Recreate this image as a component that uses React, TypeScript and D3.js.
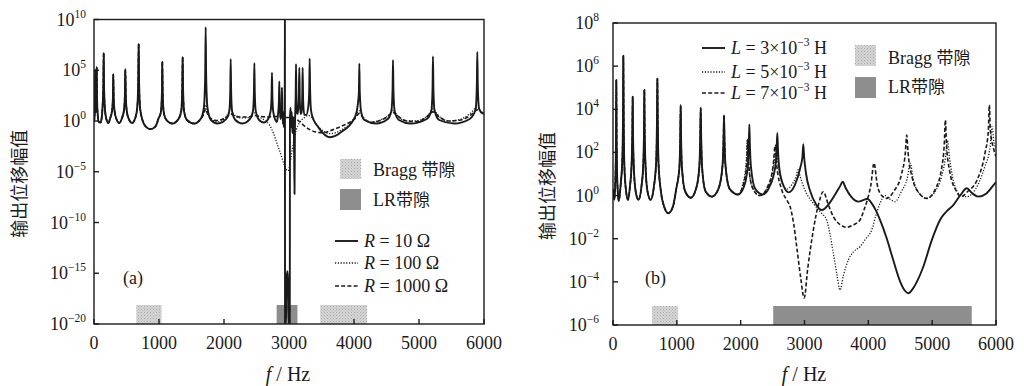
import React from 'react';
import * as d3 from 'd3';

type Pt = [number, number];

// ---------- data (frequency in Hz, amplitude as log10 exponent) ----------
const xTicks = [0, 1000, 2000, 3000, 4000, 5000, 6000];
const yExpA = [10, 5, 0, -5, -10, -15, -20];
const yExpB = [8, 6, 4, 2, 0, -2, -4, -6];

const braggA: Pt[] = [[650, 1040], [3480, 4200]];
const lrA: Pt[] = [[2810, 3130]];
const braggB: Pt[] = [[610, 1020]];
const lrB: Pt[] = [[2510, 5620]];

// panel (a): common low-frequency part of all three R curves
const lowA: Pt[] = [
  [0, -0.1], [10, 0.6], [17, 2.4], [20, 5.0], [23, 2.4], [28, 0.9], [32, 0.9], [38, 2.6], [42, 5.3], [46, 2.6], [55, 0.8], [75, -0.1], [100, -0.15],
  [120, 0.4], [130, 1.2], [143, 3.3], [149, 6.7], [155, 3.3], [168, 1.2], [190, 0.2], [222, -0.2],
  [250, 0.3], [278, 1.0], [291, 2.3], [297, 4.6], [303, 2.3], [316, 1.0], [345, 0.2], [390, -0.2],
  [430, 0.3], [462, 1.1], [475, 2.5], [482, 5.1], [489, 2.5], [502, 1.1], [535, 0.2], [585, -0.2],
  [635, 0.3], [665, 1.3], [680, 3.7], [687, 7.6], [694, 3.7], [709, 1.3], [745, 0.1], [790, -0.5], [870, -0.8], [950, -0.5],
  [990, 0.2], [1030, 0.9], [1045, 2.8], [1051, 5.85], [1057, 2.8], [1072, 0.9], [1115, 0.1], [1205, -0.25],
  [1300, 0.2], [1343, 1.0], [1357, 3.0], [1364, 6.3], [1371, 3.0], [1385, 1.0], [1430, 0.1], [1540, -0.25],
];

const r10: Pt[] = [
  ...lowA,
  [1640, 0.2], [1690, 1.3], [1710, 4.3], [1718, 9.25], [1726, 4.3], [1746, 1.3], [1800, 0.1], [1905, -0.25],
  [2035, 0.2], [2082, 1.0], [2096, 2.9], [2103, 6.1], [2110, 2.9], [2124, 1.0], [2175, 0.1], [2285, -0.25],
  [2400, 0.2], [2446, 1.0], [2460, 2.7], [2467, 5.7], [2474, 2.7], [2488, 1.0], [2540, 0.1], [2615, -0.15],
  [2680, 0.2], [2718, 1.0], [2731, 2.3], [2738, 4.75], [2745, 2.3], [2758, 0.9], [2790, 0.1], [2815, -0.1],
  [2830, 0.6], [2844, 1.8], [2851, 3.9], [2857, 1.6], [2868, 0.2], [2876, 0.5],
  [2886, 1.5], [2892, 3.3], [2898, 1.0], [2905, -0.3], [2912, 0.9], [2920, -0.6], [2928, 0.7], [2934, 0.2],
  [2937, 10], [2939, -20], [2952, -20], [2962, -16.5], [2970, -15], [2978, -14.8], [2986, -16], [2996, -20], [3012, -20],
  [3015, 0.3], [3024, 1.3], [3032, -0.6], [3042, 0.9], [3052, -1.2], [3066, 0.4], [3078, -2.5], [3085, -7.2], [3091, -1], [3097, 1],
  [3103, 2.6], [3108, 5.6], [3113, 2.6], [3122, 0.8], [3135, 0.7], [3150, 2.2], [3159, 5.25], [3166, 2.2], [3178, 0.7],
  [3192, 0.8], [3203, 2.2], [3210, 5.25], [3217, 2.2], [3235, 0.6], [3265, 0.6], [3298, 1.5], [3311, 3.0], [3318, 6.15], [3325, 3.0], [3340, 1.0],
  [3380, 0.1], [3450, -0.6], [3540, -1.3], [3630, -1.6], [3720, -1.45], [3820, -1.0], [3920, -0.5], [3990, 0.1],
  [4040, 0.9], [4075, 2.8], [4082, 5.65], [4089, 2.8], [4110, 0.9], [4160, 0.1], [4340, -0.25],
  [4520, 0.2], [4575, 1.0], [4593, 3.0], [4600, 6.0], [4607, 3.0], [4625, 1.0], [4690, 0.1], [4870, -0.25],
  [5120, 0.2], [5190, 1.0], [5208, 3.1], [5215, 6.35], [5222, 3.1], [5240, 1.0], [5310, 0.1], [5540, -0.25],
  [5780, 0.2], [5870, 1.1], [5889, 3.3], [5897, 6.8], [5905, 3.3], [5925, 1.2], [5965, 0.8], [6000, 0.7],
];

const r100: Pt[] = [
  ...lowA,
  [1640, 0.2], [1690, 0.9], [1718, 1.6], [1746, 0.9], [1800, 0.2], [1905, -0.1], [2000, 0.2], [2060, 0.7], [2103, 1.3], [2145, 0.7],
  [2250, 0.3], [2400, 0.35], [2467, 0.8], [2540, 0.4], [2620, 0.1], [2700, -0.4], [2760, -1.2], [2820, -2.3], [2870, -3.2],
  [2920, -4.2], [2960, -4.8], [2985, -4.9], [3010, -4.4], [3040, -3.2], [3075, -1.9], [3110, -0.9], [3160, -0.2], [3230, 0.3],
  [3300, 0.55], [3340, 0.4], [3420, -0.3], [3530, -1.0], [3620, -1.25], [3720, -1.15], [3830, -0.8], [3930, -0.3], [4000, 0.2],
  [4082, 1.0], [4150, 0.3], [4260, -0.1], [4400, 0.1], [4540, 0.6], [4600, 1.1], [4660, 0.6], [4800, 0.0], [4950, 0.0],
  [5140, 0.6], [5215, 1.2], [5290, 0.6], [5450, 0.0], [5600, 0.1], [5800, 0.8], [5897, 1.4], [5960, 0.9], [6000, 0.8],
];

const r1000: Pt[] = [
  ...lowA,
  [1640, 0.2], [1690, 0.7], [1718, 1.2], [1746, 0.7], [1800, 0.25], [1905, 0.05], [2000, 0.25], [2060, 0.5], [2103, 0.7], [2150, 0.55],
  [2250, 0.4], [2380, 0.4], [2467, 0.55], [2560, 0.45], [2680, 0.4], [2760, 0.45], [2850, 0.45], [2940, 0.35], [3020, 0.35],
  [3090, 0.3], [3150, 0.0], [3230, -0.45], [3320, -0.85], [3420, -1.1], [3520, -1.15], [3620, -1.0], [3720, -0.75], [3830, -0.45],
  [3930, -0.15], [4010, 0.2], [4082, 0.75], [4150, 0.25], [4260, -0.15], [4380, 0.0], [4520, 0.45], [4600, 0.85], [4680, 0.45],
  [4820, 0.0], [4960, -0.05], [5120, 0.4], [5215, 0.9], [5310, 0.4], [5460, 0.0], [5640, 0.1], [5800, 0.6], [5897, 1.1], [5960, 0.85], [6000, 0.75],
];

// panel (b): common low-frequency part of all three L curves
const lowB: Pt[] = [
  [0, 0.3], [20, -0.2], [38, 0.8], [47, 2.5], [52, 5.36], [57, 2.5], [68, 0.6], [90, -0.25],
  [120, 0.5], [148, 1.8], [157, 3.8], [162, 6.48], [167, 3.8], [177, 1.5], [205, 0.2], [235, -0.2],
  [265, 0.4], [292, 1.5], [303, 3], [308, 4.58], [313, 3], [325, 1.4], [355, 0.2], [400, -0.2],
  [445, 0.4], [475, 1.5], [486, 3.1], [491, 4.9], [496, 3.1], [508, 1.5], [540, 0.2], [590, -0.2],
  [640, 0.4], [677, 1.6], [689, 3.5], [695, 5.42], [701, 3.5], [713, 1.5], [750, 0.2], [800, -0.5], [866, -0.82], [940, -0.5],
  [990, 0.3], [1040, 1.3], [1053, 2.6], [1060, 4.18], [1067, 2.6], [1080, 1.3], [1130, 0.2], [1220, -0.1],
  [1300, 0.3], [1352, 1.3], [1366, 2.6], [1374, 4.06], [1382, 2.6], [1396, 1.3], [1450, 0.2], [1550, -0.05],
  [1650, 0.3], [1713, 1.3], [1730, 2.4], [1739, 3.72], [1748, 2.4], [1765, 1.3], [1830, 0.3], [1960, 0.05],
];

const l3: Pt[] = [
  ...lowB,
  [2050, 0.4], [2110, 1.3], [2127, 2.3], [2136, 3.3], [2145, 2.3], [2162, 1.3], [2230, 0.3], [2350, 0.05],
  [2450, 0.4], [2540, 1.3], [2563, 2.1], [2574, 2.9], [2585, 2.1], [2608, 1.2], [2680, 0.4], [2750, 0.15],
  [2850, 0.5], [2935, 1.3], [2968, 1.8], [2981, 2.38], [2994, 1.8], [3025, 1.0], [3090, 0.2], [3180, -0.4], [3270, -0.67],
  [3380, -0.4], [3480, 0.05], [3560, 0.45], [3598, 0.64], [3645, 0.35], [3730, -0.05], [3843, -0.28], [3930, -0.2], [3984, -0.15],
  [4050, -0.35], [4120, -0.7], [4183, -1.13], [4290, -2.0], [4391, -3.0], [4500, -4.0], [4570, -4.4], [4626, -4.53], [4690, -4.35],
  [4760, -4.0], [4861, -3.3], [4990, -2.1], [5123, -1.13], [5220, -0.75], [5331, -0.44], [5450, 0.05], [5541, 0.34], [5630, 0.1],
  [5723, -0.05], [5850, 0.1], [5984, 0.57], [6000, 0.62],
];

const l5: Pt[] = [
  ...lowB,
  [2030, 0.5], [2085, 1.5], [2104, 2.57], [2122, 1.5], [2180, 0.4], [2300, 0.0], [2430, 0.4], [2520, 1.5], [2555, 2.4], [2585, 1.5],
  [2660, 0.5], [2720, 0.3], [2800, 0.5], [2870, 0.9], [2900, 1.2], [2930, 0.9], [3000, 0.3], [3138, -0.36], [3260, -0.8], [3347, -1.13],
  [3400, -1.8], [3452, -2.68], [3510, -3.7], [3556, -4.38], [3610, -3.7], [3686, -2.99], [3770, -2.6], [3869, -2.37], [3960, -2.0],
  [4052, -1.6], [4120, -0.9], [4183, -0.36], [4261, 0.0], [4330, -0.15], [4418, -0.28], [4520, 0.2], [4610, 0.8], [4658, 1.5],
  [4700, 0.8], [4800, 0.1], [4914, -0.13], [5050, 0.2], [5150, 0.9], [5210, 1.8], [5240, 2.55], [5270, 1.8], [5340, 0.6],
  [5450, 0.0], [5541, -0.05], [5680, 0.3], [5820, 1.3], [5910, 2.3], [5938, 3.2], [5966, 2.5], [6000, 2.2],
];

const l7: Pt[] = [
  ...lowB,
  [2040, 0.5], [2095, 1.5], [2110, 2.6], [2125, 1.5], [2180, 0.4], [2300, 0.0], [2420, 0.4], [2510, 1.4], [2540, 2.3], [2565, 1.4],
  [2640, 0.3], [2720, -0.2], [2773, -0.5], [2830, -1.3], [2878, -2.37], [2940, -3.8], [2995, -4.75], [3050, -3.4], [3138, -1.6],
  [3220, -0.4], [3295, 0.18], [3370, -0.4], [3452, -0.98], [3560, -1.35], [3661, -1.47], [3770, -1.35], [3869, -1.13], [3940, -0.6],
  [3984, -0.2], [4040, 0.5], [4089, 1.5], [4140, 0.5], [4210, 0.0], [4288, -0.13], [4400, 0.2], [4520, 1.0], [4580, 2.0], [4601, 2.8],
  [4622, 2.0], [4690, 0.8], [4800, 0.1], [4914, -0.13], [5050, 0.3], [5150, 1.3], [5190, 2.4], [5207, 3.5], [5224, 2.4], [5270, 1.2],
  [5380, 0.2], [5450, -0.05], [5560, 0.2], [5700, 0.7], [5830, 2.0], [5880, 3.0], [5896, 4.2], [5912, 3.0], [5960, 2.2], [6000, 1.8],
];

// ---------- drawing ----------
const SERIF = "'Liberation Serif', 'Times New Roman', serif";
const CJK = "'Noto Sans CJK SC', sans-serif";
const INK = '#1a1a1a';

type Series = { data: Pt[]; dash?: string; width: number };

type PanelProps = {
  id: string;
  left: number; right: number; top: number; bottom: number;
  expMin: number; expMax: number;
  yExps: number[];
  labelGap: number;
  bragg: Pt[]; lr: Pt[];
  series: Series[];
  ylabelX: number;
  xlabelX: number;
  tag: string;
  tagX: number;
};

function Panel(p: PanelProps) {
  const xs = d3.scaleLinear().domain([0, 6000]).range([p.left, p.right]);
  const ys = d3.scaleLog().domain([Math.pow(10, p.expMin), Math.pow(10, p.expMax)]).range([p.bottom, p.top]);
  const line = d3
    .line<Pt>()
    .x((d) => xs(d[0]))
    .y((d) => ys(Math.pow(10, d[1])))
    .curve(d3.curveMonotoneX);
  const bandH = 19;
  const midY = (p.top + p.bottom) / 2;
  return (
    <g>
      <defs>
        <clipPath id={'clip' + p.id}>
          <rect x={p.left} y={p.top} width={p.right - p.left} height={p.bottom - p.top} />
        </clipPath>
      </defs>
      {p.bragg.map((b, i) => (
        <rect key={'b' + i} x={xs(b[0])} y={p.bottom - bandH} width={xs(b[1]) - xs(b[0])} height={bandH} fill="url(#stipple)" />
      ))}
      {p.lr.map((b, i) => (
        <rect key={'l' + i} x={xs(b[0])} y={p.bottom - bandH} width={xs(b[1]) - xs(b[0])} height={bandH} fill="#8e8e8e" />
      ))}
      <g clipPath={`url(#clip${p.id})`}>
        {p.series.map((s, i) => (
          <path key={i} d={line(s.data) || ''} fill="none" stroke={INK} strokeWidth={s.width} strokeDasharray={s.dash} strokeLinejoin="round" />
        ))}
      </g>
      <rect x={p.left} y={p.top} width={p.right - p.left} height={p.bottom - p.top} fill="none" stroke={INK} strokeWidth={1.4} />
      {xTicks.map((t) => (
        <g key={'x' + t}>
          <line x1={xs(t)} x2={xs(t)} y1={p.bottom} y2={p.bottom - 5} stroke={INK} strokeWidth={1.4} />
          <text x={xs(t)} y={p.bottom + 25} textAnchor="middle" fontFamily={SERIF} fontSize={18} fill={INK}>
            {t}
          </text>
        </g>
      ))}
      {p.yExps.map((e) => {
        const y = ys(Math.pow(10, e));
        return (
          <g key={'y' + e}>
            <line x1={p.left} x2={p.left + 5} y1={y} y2={y} stroke={INK} strokeWidth={1.4} />
            <text x={p.left - p.labelGap} y={y + 6} textAnchor="end" fontFamily={SERIF} fontSize={18} fill={INK}>
              10
              <tspan fontSize={11.5} dy={-8}>{e < 0 ? '\u2212' + Math.abs(e) : String(e)}</tspan>
            </text>
          </g>
        );
      })}
      <text
        transform={`translate(${p.ylabelX},${midY + 12}) rotate(-90)`}
        textAnchor="middle"
        fontFamily={CJK}
        fontSize={18}
        fill={INK}
      >
        输出位移幅值
      </text>
      <text x={p.xlabelX} y={381} textAnchor="middle" fontFamily={SERIF} fontSize={20} fill={INK}>
        <tspan fontStyle="italic">f</tspan>
        {' / Hz'}
      </text>
      <text x={p.tagX} y={284} fontFamily={SERIF} fontSize={18} fill={INK}>
        {p.tag}
      </text>
    </g>
  );
}

function LegendLine({ x, y, dash, width }: { x: number; y: number; dash?: string; width: number }) {
  return <line x1={x} x2={x + 23} y1={y} y2={y} stroke={INK} strokeWidth={width} strokeDasharray={dash} />;
}

const DASH = '4,2.2';
const DOT = '1.2,1.6';
const W_SOLID = 1.9;
const W_DASH = 1.6;
const W_DOT = 1.3;

export default function App() {
  return (
    <svg
      width={1024}
      height={386}
      style={{ position: 'absolute', left: 0, top: 0, background: '#fff' }}
      xmlns="http://www.w3.org/2000/svg"
    >
      <defs>
        <pattern id="stipple" width={3} height={3} patternUnits="userSpaceOnUse">
          <rect width={3} height={3} fill="#d6d6d6" />
          <rect width={1} height={1} fill="#a9a9a9" />
          <rect x={1.5} y={1.5} width={1} height={1} fill="#b5b5b5" />
        </pattern>
      </defs>
      <rect width={1024} height={386} fill="#fff" />
      <Panel
        id="a"
        left={94}
        right={484}
        top={19.5}
        bottom={324}
        expMin={-20}
        expMax={10}
        yExps={yExpA}
        labelGap={8}
        bragg={braggA}
        lr={lrA}
        series={[
          { data: r1000, dash: DASH, width: W_DASH },
          { data: r100, dash: DOT, width: W_DOT },
          { data: r10, width: W_SOLID },
        ]}
        ylabelX={26}
        xlabelX={288}
        tag="(a)"
        tagX={123}
      />
      <Panel
        id="b"
        left={613}
        right={996}
        top={23}
        bottom={325}
        expMin={-6}
        expMax={8}
        yExps={yExpB}
        labelGap={14}
        bragg={braggB}
        lr={lrB}
        series={[
          { data: l7, dash: DASH, width: W_DASH },
          { data: l5, dash: DOT, width: W_DOT },
          { data: l3, width: W_SOLID },
        ]}
        ylabelX={554}
        xlabelX={804}
        tag="(b)"
        tagX={645}
      />
      {/* legend (a) */}
      <rect x={340} y={159} width={21} height={20} fill="url(#stipple)" />
      <text x={373} y={176} fontFamily={SERIF} fontSize={18} fill={INK}>
        Bragg <tspan fontFamily={CJK} fontSize={17}>带隙</tspan>
      </text>
      <rect x={340} y={189} width={21} height={21} fill="#8e8e8e" />
      <text x={373} y={206} fontFamily={SERIF} fontSize={18} fill={INK}>
        LR<tspan fontFamily={CJK} fontSize={17}>带隙</tspan>
      </text>
      <LegendLine x={335} y={241} width={W_SOLID} />
      <LegendLine x={335} y={263} dash={DOT} width={W_DOT} />
      <LegendLine x={335} y={286} dash={DASH} width={W_DASH} />
      {[
        ['10', 241],
        ['100', 263],
        ['1000', 286],
      ].map(([r, y]) => (
        <text key={r as string} x={364} y={(y as number) + 6} fontFamily={SERIF} fontSize={18} fill={INK}>
          <tspan fontStyle="italic">R</tspan>
          {` = ${r} Ω`}
        </text>
      ))}
      {/* legend (b) */}
      <LegendLine x={702} y={48} width={W_SOLID} />
      <LegendLine x={702} y={72} dash={DOT} width={W_DOT} />
      <LegendLine x={702} y={93} dash={DASH} width={W_DASH} />
      {[
        ['3', 48],
        ['5', 72],
        ['7', 93],
      ].map(([l, y]) => (
        <text key={l as string} x={731} y={(y as number) + 6} fontFamily={SERIF} fontSize={18} fill={INK}>
          <tspan fontStyle="italic">L</tspan>
          {` = ${l}×10`}
          <tspan fontSize={11.5} dy={-8}>−3</tspan>
          <tspan dy={8}> H</tspan>
        </text>
      ))}
      <rect x={855} y={45} width={21} height={21} fill="url(#stipple)" />
      <text x={888} y={64} fontFamily={SERIF} fontSize={18} fill={INK}>
        Bragg <tspan fontFamily={CJK} fontSize={17}>带隙</tspan>
      </text>
      <rect x={855} y={77} width={21} height={21} fill="#8e8e8e" />
      <text x={888} y={93} fontFamily={SERIF} fontSize={18} fill={INK}>
        LR<tspan fontFamily={CJK} fontSize={17}>带隙</tspan>
      </text>
    </svg>
  );
}
